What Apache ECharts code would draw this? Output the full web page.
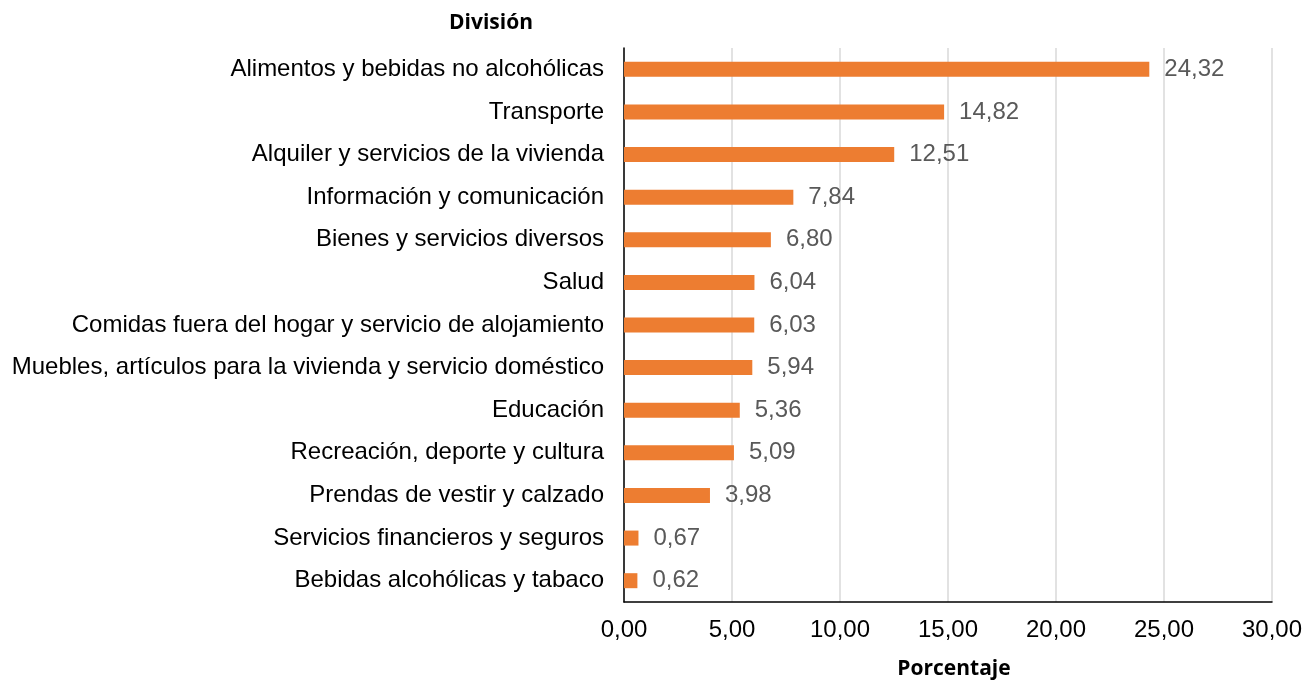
<!DOCTYPE html>
<html>
<head>
<meta charset="utf-8">
<script src="https://cdn.jsdelivr.net/npm/echarts@6/dist/echarts.min.js"></script>
<style>
  html, body { margin: 0; padding: 0; background: #fff; }
  #chart { width: 1314px; height: 681px; }
</style>
</head>
<body>
<div id="chart"></div>
<script>
// categories listed bottom to top (category axis draws first item at bottom)
const categories = [
  "Bebidas alcohólicas y tabaco",
  "Servicios financieros y seguros",
  "Prendas de vestir y calzado",
  "Recreación, deporte y cultura",
  "Educación",
  "Muebles, artículos para la vivienda y servicio doméstico",
  "Comidas fuera del hogar y servicio de alojamiento",
  "Salud",
  "Bienes y servicios diversos",
  "Información y comunicación",
  "Alquiler y servicios de la vivienda",
  "Transporte",
  "Alimentos y bebidas no alcohólicas"
];
const values = [0.62, 0.67, 3.98, 5.09, 5.36, 5.94, 6.03, 6.04, 6.80, 7.84, 12.51, 14.82, 24.32];

const fmt = (v, d) => v.toFixed(d).replace(".", ",");

let myChart = echarts.init(document.getElementById("chart"));
let option = {
  animation: false,
  title: [
    {
      text: "División",
      left: 486,
      top: 8,
      textAlign: "center",
      textStyle: { fontFamily: "Open Sans", fontWeight: "bold", fontSize: 21, color: "#000" }
    },
    {
      text: "Porcentaje",
      left: 949,
      top: 654,
      textAlign: "center",
      textStyle: { fontFamily: "Open Sans", fontWeight: "bold", fontSize: 21, color: "#000" }
    }
  ],
  grid: { left: 624, right: 42, top: 48, bottom: 79 },
  xAxis: {
    type: "value",
    min: 0,
    max: 30,
    interval: 5,
    axisLine: { show: true, lineStyle: { color: "#000", width: 1.5 } },
    axisTick: { show: false },
    splitLine: { lineStyle: { color: "#d9d9d9", width: 1.5 } },
    axisLabel: {
      margin: 16,
      fontFamily: "Liberation Sans",
      fontSize: 24,
      color: "#000",
      formatter: v => fmt(v, 2)
    }
  },
  yAxis: {
    type: "category",
    data: categories,
    axisLine: { show: true, lineStyle: { color: "#000", width: 1.5 } },
    axisTick: { show: false },
    axisLabel: {
      margin: 20,
      fontFamily: "Liberation Sans",
      fontSize: 24,
      color: "#000"
    }
  },
  series: [
    {
      type: "bar",
      data: values,
      barWidth: 15,
      itemStyle: { color: "#ED7D31" },
      label: {
        show: true,
        position: "right",
        distance: 15,
        fontFamily: "Liberation Sans",
        fontSize: 24,
        color: "#595959",
        formatter: p => fmt(p.value, 2)
      }
    }
  ]
};
myChart.setOption(option);
</script>
</body>
</html>
